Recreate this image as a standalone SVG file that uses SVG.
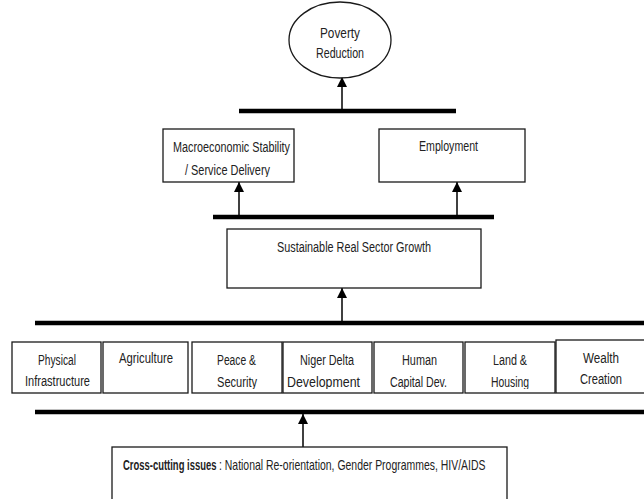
<svg xmlns="http://www.w3.org/2000/svg" width="644" height="499" viewBox="0 0 644 499">
  <defs>
    <marker id="arrow" viewBox="0 0 10 12" refX="10" refY="6" markerWidth="10" markerHeight="12" markerUnits="userSpaceOnUse" orient="auto">
      <path d="M0,1 L10,6 L0,11 Z" fill="#000"/>
    </marker>
    <!-- text frames cut off descenders on the lower line -->
    <clipPath id="clip-row"><rect x="0" y="0" width="644" height="389"/></clipPath>
    <clipPath id="clip-macro"><rect x="0" y="0" width="644" height="177"/></clipPath>
    <style>
      .box { fill: #fff; stroke: #1a1a1a; stroke-width: 1.3; }
      .lbl { font-family: "Liberation Sans", Arial, sans-serif; font-size: 14px; fill: #222; }
      .bold { font-weight: bold; }
      .bar { stroke: #000; stroke-width: 4.5; fill: none; }
      .link { stroke: #000; stroke-width: 1.5; fill: none; marker-end: url(#arrow); }
    </style>
  </defs>
  <rect width="644" height="499" fill="#fff"/>

  <!-- bus bars and arrows -->
  <g id="connectors">
    <line class="bar" x1="239" y1="111" x2="456" y2="111"/>
    <line class="bar" x1="213" y1="217" x2="494" y2="217"/>
    <line class="bar" x1="35" y1="323" x2="650" y2="323"/>
    <line class="bar" x1="35" y1="412" x2="650" y2="412"/>
    <line class="link" x1="342" y1="109" x2="342" y2="77"/>
    <line class="link" x1="239" y1="215" x2="239" y2="182"/>
    <line class="link" x1="457" y1="215" x2="457" y2="182"/>
    <line class="link" x1="342" y1="321" x2="342" y2="288"/>
    <line class="link" x1="303" y1="447" x2="303" y2="414"/>
  </g>

  <g id="poverty-reduction">
    <ellipse class="box" cx="340" cy="40" rx="51" ry="38"/>
    <text class="lbl" x="340" y="38" text-anchor="middle" textLength="40" lengthAdjust="spacingAndGlyphs">Poverty</text>
    <text class="lbl" x="340" y="58" text-anchor="middle" textLength="48" lengthAdjust="spacingAndGlyphs">Reduction</text>
  </g>

  <g id="macroeconomic-stability">
    <rect class="box" x="163" y="129" width="131" height="53"/>
    <text class="lbl" x="173" y="152" textLength="117" lengthAdjust="spacingAndGlyphs">Macroeconomic Stability</text>
    <text class="lbl" x="185" y="175" textLength="85" lengthAdjust="spacingAndGlyphs" clip-path="url(#clip-macro)">/ Service Delivery</text>
  </g>

  <g id="employment">
    <rect class="box" x="379" y="129" width="146" height="53"/>
    <text class="lbl" x="419" y="151" textLength="59" lengthAdjust="spacingAndGlyphs">Employment</text>
  </g>

  <g id="real-sector-growth">
    <rect class="box" x="227" y="229" width="254" height="59"/>
    <text class="lbl" x="277" y="252" textLength="154" lengthAdjust="spacingAndGlyphs">Sustainable Real Sector Growth</text>
  </g>

  <g id="physical-infrastructure">
    <rect class="box" x="12" y="342" width="89" height="51"/>
    <text class="lbl" x="38" y="365" textLength="38" lengthAdjust="spacingAndGlyphs">Physical</text>
    <text class="lbl" x="25" y="386" textLength="65" lengthAdjust="spacingAndGlyphs">Infrastructure</text>
  </g>

  <g id="agriculture">
    <rect class="box" x="103" y="342" width="85" height="51"/>
    <text class="lbl" x="119" y="363" textLength="54" lengthAdjust="spacingAndGlyphs">Agriculture</text>
  </g>

  <g id="peace-security">
    <rect class="box" x="192" y="342" width="90" height="51"/>
    <text class="lbl" x="217" y="365" textLength="39" lengthAdjust="spacingAndGlyphs">Peace &amp;</text>
    <text class="lbl" x="217" y="387" textLength="40" lengthAdjust="spacingAndGlyphs" clip-path="url(#clip-row)">Security</text>
  </g>

  <g id="niger-delta">
    <rect class="box" x="283" y="342" width="89" height="51"/>
    <text class="lbl" x="300" y="365" textLength="54" lengthAdjust="spacingAndGlyphs">Niger Delta</text>
    <text class="lbl" x="287" y="387" textLength="73" lengthAdjust="spacingAndGlyphs" clip-path="url(#clip-row)">Development</text>
  </g>

  <g id="human-capital">
    <rect class="box" x="374" y="342" width="89" height="51"/>
    <text class="lbl" x="402" y="365" textLength="35" lengthAdjust="spacingAndGlyphs">Human</text>
    <text class="lbl" x="390" y="387" textLength="57" lengthAdjust="spacingAndGlyphs" clip-path="url(#clip-row)">Capital Dev.</text>
  </g>

  <g id="land-housing">
    <rect class="box" x="465" y="342" width="90" height="51"/>
    <text class="lbl" x="493" y="365" textLength="34" lengthAdjust="spacingAndGlyphs">Land &amp;</text>
    <text class="lbl" x="491" y="387" textLength="38" lengthAdjust="spacingAndGlyphs" clip-path="url(#clip-row)">Housing</text>
  </g>

  <g id="wealth-creation">
    <rect class="box" x="556" y="340" width="100" height="53"/>
    <text class="lbl" x="583" y="363" textLength="36" lengthAdjust="spacingAndGlyphs">Wealth</text>
    <text class="lbl" x="580" y="384" textLength="42" lengthAdjust="spacingAndGlyphs">Creation</text>
  </g>

  <g id="cross-cutting">
    <rect class="box" x="112" y="447" width="395" height="70"/>
    <!-- condensed line: horizontal squeeze keeps the glyph height -->
    <g transform="translate(123,470) scale(0.73,1)">
      <text class="lbl bold" x="0" y="0" textLength="128" lengthAdjust="spacingAndGlyphs">Cross-cutting issues</text>
      <text class="lbl" x="131.5" y="0" textLength="365" lengthAdjust="spacingAndGlyphs">: National Re-orientation, Gender Programmes, HIV/AIDS</text>
    </g>
  </g>
</svg>
